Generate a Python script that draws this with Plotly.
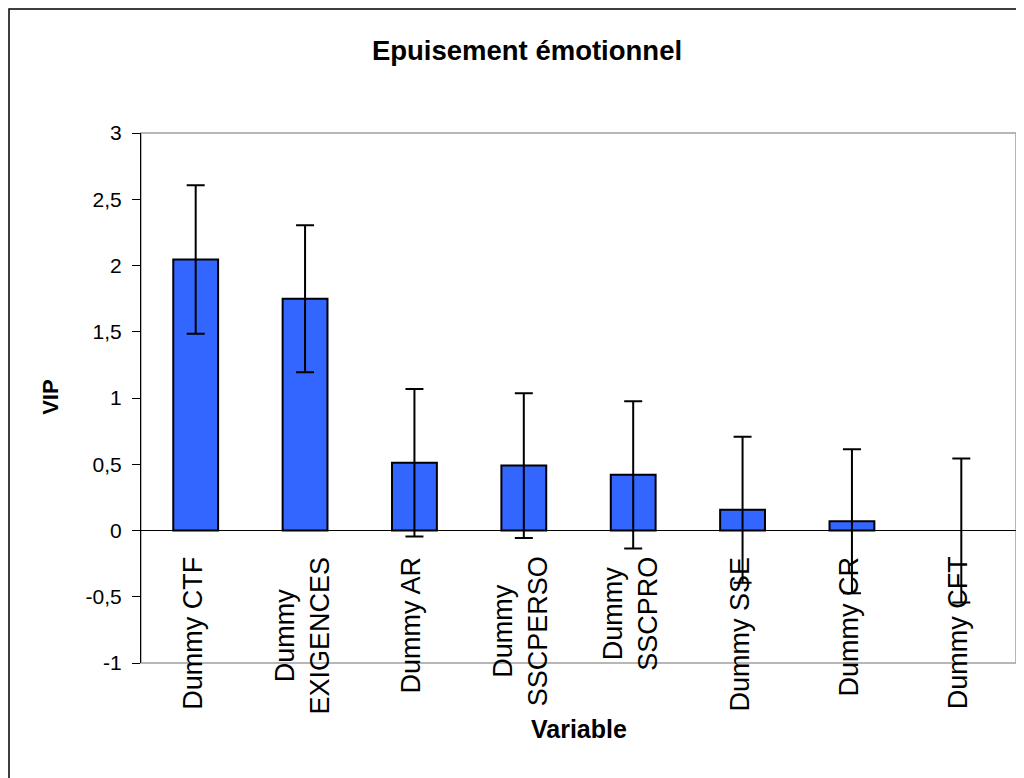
import plotly.graph_objects as go

categories = ["Dummy CTF", "Dummy EXIGENCES", "Dummy AR", "Dummy SSCPERSO",
              "Dummy SSCPRO", "Dummy SSE", "Dummy CR", "Dummy CFT"]
label_text = ["Dummy CTF", "Dummy<br>EXIGENCES", "Dummy AR", "Dummy<br>SSCPERSO",
              "Dummy<br>SSCPRO", "Dummy SSE", "Dummy CR", "Dummy CFT"]
vip = [2.045, 1.749, 0.511, 0.49, 0.42, 0.156, 0.07, 0.0]
vip_err = [0.56, 0.555, 0.556, 0.546, 0.556, 0.551, 0.544, 0.543]
y_tickvals = [-1, -0.5, 0, 0.5, 1, 1.5, 2, 2.5, 3]
y_ticktext = ["-1", "-0,5", "0", "0,5", "1", "1,5", "2", "2,5", "3"]

FONT = "Liberation Sans, Arial, sans-serif"

# page offset (browser body margin) is 8px
L, R, T, B = 133, 8, 125, 115
W, H = 1016, 770
PW, PH = W - L - R, H - T - B

outline_w = [2 if v != 0 else 0 for v in vip]

fig = go.Figure()
fig.add_trace(go.Bar(
    x=categories, y=vip, width=0.41,
    marker=dict(color="#3366FF", line=dict(color="black", width=outline_w)),
    error_y=dict(type="data", array=vip_err, visible=True,
                 color="black", thickness=2, width=9),
    showlegend=False,
))

annotations = []
for cat, txt in zip(categories, label_text):
    annotations.append(dict(
        x=cat, y=0, xref="x", yref="y", text=txt, showarrow=False,
        textangle=-90, xanchor="center", yanchor="top", align="center",
        yshift=-24, xshift=-3,
        font=dict(family=FONT, size=27, color="black"),
    ))
annotations.append(dict(
    x=0.5, y=-0.1245, xref="paper", yref="paper", text="<b>Variable</b>",
    showarrow=False, xanchor="center", yanchor="middle",
    font=dict(family=FONT, size=25, color="black"),
))
annotations.append(dict(
    x=-0.103, y=0.502, xref="paper", yref="paper", text="<b>VIP</b>",
    showarrow=False, xanchor="center", yanchor="middle", textangle=-90,
    font=dict(family=FONT, size=22, color="black"),
))

fig.update_layout(
    width=W, height=H, autosize=False,
    margin=dict(l=L, r=R, t=T, b=B),
    paper_bgcolor="white", plot_bgcolor="white",
    title=dict(text="<b>Epuisement émotionnel</b>", x=(527 - 8) / W,
               y=1 - (50 - 8) / H,
               xref="container", yref="container",
               xanchor="center", yanchor="middle",
               font=dict(family=FONT, size=27.5, color="black")),
    xaxis=dict(showticklabels=False, showline=False, ticks="", showgrid=False,
               zeroline=False, range=[-0.5, 7.5]),
    yaxis=dict(range=[-1, 3], tickvals=y_tickvals, ticktext=y_ticktext,
               showline=True, linecolor="black", linewidth=1,
               ticks="outside", ticklen=8, tickcolor="black", tickwidth=1,
               showgrid=False, zeroline=True, zerolinecolor="black",
               zerolinewidth=1, ticklabelstandoff=6,
               tickfont=dict(family=FONT, size=21, color="black")),
    annotations=annotations,
    shapes=[
        dict(type="rect", xref="paper", yref="paper", x0=0, y0=0, x1=1, y1=1,
             line=dict(color="#A0A0A0", width=1.5), layer="below"),
        dict(type="rect", xref="paper", yref="paper",
             x0=(1 - L) / PW, y0=-(B + 20) / PH,
             x1=(W + 20 - L) / PW, y1=(PH + T - 1) / PH,
             line=dict(color="black", width=1.5), layer="below"),
    ],
)

fig.write_html("out.html")
